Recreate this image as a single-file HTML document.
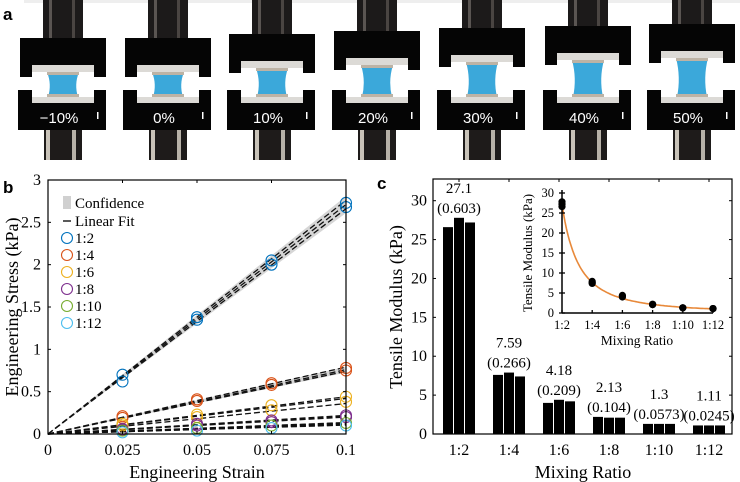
<!DOCTYPE html>
<html><head><meta charset="utf-8">
<style>
html,body{margin:0;padding:0;background:#fff;}
svg{display:block;font-family:"Liberation Serif",serif;}
.lbl{font-family:"Liberation Sans",sans-serif;font-weight:bold;}
</style></head>
<body>
<svg id="fig" width="740" height="482" viewBox="0 0 740 482" xmlns="http://www.w3.org/2000/svg">
<rect x="0" y="0" width="740" height="482" fill="#fff"/>
<rect x="24" y="0" width="716" height="3" fill="#eeeeee"/>
<g id="panelA"></g>
<text class="lbl" x="3" y="20" font-size="17">a</text>
<g id="panelB"></g>
<g id="panelC"></g>
</svg>
<script>
// ---------- Panel a data ----------
const strainLabels = ["\u221210%","0%","10%","20%","30%","40%","50%"];
const upperTop = [38,38,34,31,28,26,24];

// ---------- Panel b data ----------
const strainTicks = [0,0.025,0.05,0.075,0.1];
const strainTickLabels = ["0","0.025","0.05","0.075","0.1"];
const stressTicks = [0,0.5,1,1.5,2,2.5,3];
const stressTickLabels = ["0","0.5","1","1.5","2","2.5","3"];
const ratioNames = ["1:2","1:4","1:6","1:8","1:10","1:12"];
const ratioColors = ["#0072BD","#D95319","#EDB120","#7E2F8E","#77AC30","#4DBEEE"];
const sampleStrains = [0.025,0.05,0.075,0.1];
const stress12a = [0.70,1.38,2.05,2.73];
const stress12b = [0.62,1.35,2.00,2.68];
const stress14a = [0.21,0.41,0.60,0.78];
const stress14b = [0.19,0.39,0.58,0.75];
const stress16a = [0.12,0.23,0.34,0.44];
const stress16b = [0.10,0.20,0.28,0.38];
const stress18a = [0.06,0.10,0.16,0.20];
const stress18b = [0.05,0.12,0.14,0.22];
const stress110 = [0.04,0.07,0.10,0.13];
const stress112 = [0.02,0.04,0.07,0.10];
const fitSlopes12 = [27.6,27.1,26.6];
const fitSlopes14 = [7.9,7.6,7.4];
const fitSlopes16 = [4.4,4.2,3.6];
const fitSlopes18 = [2.2,2.1,2.0];
const fitSlopes110 = [1.35,1.3,1.25];
const fitSlopes112 = [1.15,1.1,1.05];
const bandSlopes = [27.1,7.6];

// ---------- Panel c data ----------
const modTicks = [0,5,10,15,20,25,30];
const modTickLabels = ["0","5","10","15","20","25","30"];
const barsSample1 = [26.6,7.6,4.0,2.2,1.3,1.1];
const barsSample2 = [27.8,7.9,4.4,2.1,1.3,1.1];
const barsSample3 = [27.2,7.4,4.2,2.1,1.3,1.1];
const meanLabels = ["27.1","7.59","4.18","2.13","1.3","1.11"];
const sdLabels = ["(0.603)","(0.266)","(0.209)","(0.104)","(0.0573)","(0.0245)"];
const insetTicks = [0,5,10,15,20,25,30];
const insetTickLabels = ["0","5","10","15","20","25","30"];
const ratioValues = [2,4,6,8,10,12];
const fitA = [96.5];
const fitB = [1.83];

const NS="http://www.w3.org/2000/svg";
function mk(parent,tag,attrs,text){const e=document.createElementNS(NS,tag);for(const k in attrs)e.setAttribute(k,attrs[k]);if(text!==undefined)e.textContent=text;parent.appendChild(e);return e;}

// ---------- Panel a ----------
(function(){
const g=document.getElementById('panelA');
const centers=[63,168,272,377,482,588,692];
strainLabels.forEach((lab,i)=>{
 const cx=centers[i],T=upperTop[i];
 const ph=mk(g,'g',{});
 
 
 mk(ph,'rect',{x:cx-20,y:0,width:40,height:T+2,fill:'#1c1a1a'});
 mk(ph,'rect',{x:cx-14,y:0,width:3,height:T,fill:'#5a5552'});
 mk(ph,'rect',{x:cx+9,y:0,width:3,height:T,fill:'#4a4542'});
 // upper block
 mk(ph,'path',{d:`M${cx-43} ${T} H${cx+43} V${T+39} H${cx+31} V${T+27} H${cx-31} V${T+39} H${cx-43} Z`,fill:'#050505'});
 mk(ph,'rect',{x:cx-31,y:T+27,width:62,height:7,fill:'#dcdad6'});
 // sample
 mk(ph,'path',{d:`M${cx-16} ${T+34} L${cx+16} ${T+34} Q${cx+11} ${(T+34+97)/2} ${cx+15} 97 L${cx-15} 97 Q${cx-11} ${(T+34+97)/2} ${cx-16} ${T+34} Z`,fill:'#3ba8da'});
 mk(ph,'rect',{x:cx-16,y:T+34,width:32,height:3,fill:'#bdb3a5'});
 mk(ph,'rect',{x:cx-16,y:94,width:32,height:3,fill:'#bdb3a5'});
 // lower block
 mk(ph,'path',{d:`M${cx-45} 90 H${cx-31} V97 H${cx+31} V90 H${cx+43} V130 H${cx-45} Z`,fill:'#050505'});
 mk(ph,'rect',{x:cx-31,y:97,width:62,height:6,fill:'#dcdad6'});
 const t=mk(ph,'text',{x:cx-4,y:123,'font-size':15,fill:'#fff','text-anchor':'middle','font-family':'"Liberation Sans",sans-serif'},lab);
 
 
 mk(ph,'rect',{x:cx+34,y:112,width:1.5,height:7,fill:'#fff'});
 // lower column
 mk(ph,'rect',{x:cx-19,y:130,width:38,height:30,fill:'#1e1b1a'});
 mk(ph,'rect',{x:cx-17,y:130,width:4,height:30,fill:'#c8c2b8'});
 mk(ph,'rect',{x:cx+9,y:130,width:4,height:30,fill:'#b8b2a8'});
});
})();

// ---------- Panel b ----------
(function(){
const g=document.getElementById('panelB');
const X0=48,X1=346,Y0=434,Y1=180;
const sx=v=>X0+(v-0)/(0.1)*(X1-X0);
const sy=v=>Y0-(v/3)*(Y0-Y1);
const lab=mk(g,'text',{x:3,y:193,'font-size':17,class:'lbl'},'b');

bandSlopes.forEach((s,i)=>{
 const w=i==0?0.1:0.035;
 const p=mk(g,'path',{d:`M${sx(0)} ${sy(0)} L${sx(0.1)} ${sy(s*0.1+w)} L${sx(0.1)} ${sy(s*0.1-w)} Z`,fill:'#cfcfcf',opacity:0.85});
 
});
const slopeSets=[fitSlopes12,fitSlopes14,fitSlopes16,fitSlopes18,fitSlopes110,fitSlopes112];
slopeSets.forEach(arr=>arr.forEach(s=>{
 const l=mk(g,'line',{x1:sx(0),y1:sy(0),x2:sx(0.1),y2:sy(s*0.1),stroke:'#111','stroke-width':1.3,'stroke-dasharray':'6 3'});
 
}));
const series=[[stress12a,stress12b],[stress14a,stress14b],[stress16a,stress16b],[stress18a,stress18b],[stress110],[stress112]];
series.forEach((ss,k)=>ss.forEach(arr=>arr.forEach((v,j)=>{
 const c=mk(g,'circle',{cx:sx(sampleStrains[j]),cy:sy(v),r:5.5,fill:'none',stroke:ratioColors[k],'stroke-width':1.1});
 
})));
mk(g,'rect',{x:X0,y:Y1,width:X1-X0,height:Y0-Y1,fill:'none',stroke:'#000','stroke-width':1.2});
strainTicks.forEach((v,i)=>{
 mk(g,'line',{x1:sx(v),y1:Y0,x2:sx(v),y2:Y0-3,stroke:'#000'});
 mk(g,'line',{x1:sx(v),y1:Y1,x2:sx(v),y2:Y1+3,stroke:'#000'});
 const t=mk(g,'text',{x:sx(v),y:455,'font-size':16,'text-anchor':'middle'},strainTickLabels[i]);
 
});
stressTicks.forEach((v,i)=>{
 mk(g,'line',{x1:X0,y1:sy(v),x2:X0+3,y2:sy(v),stroke:'#000'});
 mk(g,'line',{x1:X1,y1:sy(v),x2:X1-3,y2:sy(v),stroke:'#000'});
 const t=mk(g,'text',{x:X0-7,y:sy(v)+5,'font-size':16,'text-anchor':'end'},stressTickLabels[i]);
 
});
const xt=mk(g,'text',{x:197,y:478,'font-size':18,'text-anchor':'middle'},'Engineering Strain');

const yt=mk(g,'text',{x:0,y:0,'font-size':18,'text-anchor':'middle',transform:'translate(18,307) rotate(-90)'},'Engineering Stress (kPa)');

const lg=mk(g,'g',{});

mk(lg,'rect',{x:63,y:196,width:8,height:13,fill:'#d0d0d0'});
mk(lg,'text',{x:75,y:208,'font-size':15},'Confidence');
mk(lg,'line',{x1:63,y1:221,x2:71,y2:221,stroke:'#222','stroke-width':1.5});
mk(lg,'text',{x:75,y:226,'font-size':15},'Linear Fit');
ratioNames.forEach((n,i)=>{
 const y=238+17*i;
 const e=mk(lg,'g',{});
 
 mk(e,'circle',{cx:67,cy:y,r:5.5,fill:'none',stroke:ratioColors[i],'stroke-width':1.1});
 mk(e,'text',{x:75,y:y+5,'font-size':15},n);
});
})();

// ---------- Panel c ----------
(function(){
const g=document.getElementById('panelC');
const X0=433,X1=732,Y0=434,Y1=179;
const sy=v=>Y0-v*(Y0-200.7)/30;
const cxs=i=>459+50*i;
const lab=mk(g,'text',{x:377,y:189,'font-size':17,class:'lbl'},'c');

const sets=[barsSample1,barsSample2,barsSample3];
ratioNames.forEach((n,i)=>{
 sets.forEach((arr,k)=>{
  const v=arr[i];const x=cxs(i)-16+k*11;
  const b=mk(g,'rect',{x:x,y:sy(v),width:10,height:Y0-sy(v),fill:'#000'});
  
 });
 const top=sy(Math.max(barsSample1[i],barsSample2[i],barsSample3[i]));
 const m=mk(g,'text',{x:cxs(i),y:top-25,'font-size':15,'text-anchor':'middle'},meanLabels[i]);
 
 const s=mk(g,'text',{x:cxs(i),y:top-5,'font-size':15,'text-anchor':'middle'},sdLabels[i]);
 
 const t=mk(g,'text',{x:cxs(i),y:455,'font-size':16,'text-anchor':'middle'},n);
 
 mk(g,'line',{x1:cxs(i),y1:Y1,x2:cxs(i),y2:Y1+3,stroke:'#000'});
 mk(g,'line',{x1:cxs(i),y1:Y0,x2:cxs(i),y2:Y0-3,stroke:'#000'});
});
mk(g,'rect',{x:X0,y:Y1,width:X1-X0,height:Y0-Y1,fill:'none',stroke:'#000','stroke-width':1.2});
modTicks.forEach((v,i)=>{
 mk(g,'line',{x1:X0,y1:sy(v),x2:X0+3,y2:sy(v),stroke:'#000'});
 mk(g,'line',{x1:X1,y1:sy(v),x2:X1-3,y2:sy(v),stroke:'#000'});
 const t=mk(g,'text',{x:X0-6,y:sy(v)+5,'font-size':16,'text-anchor':'end'},modTickLabels[i]);
 
});
const xt=mk(g,'text',{x:583,y:478,'font-size':18,'text-anchor':'middle'},'Mixing Ratio');

const yt=mk(g,'text',{x:0,y:0,'font-size':18,'text-anchor':'middle',transform:'translate(402,307) rotate(-90)'},'Tensile Modulus (kPa)');

const ig=mk(g,'g',{});

const IX0=562,IX1=713,IY0=313,IY1=193;
const ix=r=>IX0+(r-2)/10*(IX1-IX0);
const iy=v=>IY0-v/30*(IY0-IY1);
let d='';
for(let r=2;r<=12.001;r+=0.1){const v=fitA[0]*Math.pow(r,-fitB[0]);d+=(d?'L':'M')+ix(r).toFixed(1)+' '+iy(v).toFixed(1);}
const fc=mk(ig,'path',{d:d,fill:'none',stroke:'#E8893A','stroke-width':1.6});

ratioValues.forEach((r,i)=>{
 sets.forEach(arr=>{
  const c=mk(ig,'circle',{cx:ix(r),cy:iy(arr[i]),r:3.6,fill:'#000'});
  
 });
 mk(ig,'line',{x1:ix(r),y1:IY0,x2:ix(r),y2:IY0-3,stroke:'#000','stroke-width':1.3});
 const t=mk(ig,'text',{x:ix(r),y:IY0+16,'font-size':12.5,'text-anchor':'middle'},ratioNames[i]);
 
});
mk(ig,'line',{x1:IX0,y1:IY1-3,x2:IX0,y2:IY0,stroke:'#000','stroke-width':1.5});
mk(ig,'line',{x1:IX0,y1:IY0,x2:IX1,y2:IY0,stroke:'#000','stroke-width':1.5});
insetTicks.forEach((v,i)=>{
 mk(ig,'line',{x1:IX0-3,y1:iy(v),x2:IX0+3,y2:iy(v),stroke:'#000','stroke-width':1.3});
 const t=mk(ig,'text',{x:IX0-8,y:iy(v)+4,'font-size':12.5,'text-anchor':'end'},insetTickLabels[i]);
 
});
const ixt=mk(ig,'text',{x:637,y:345,'font-size':13.5,'text-anchor':'middle'},'Mixing Ratio');

const iyt=mk(ig,'text',{x:0,y:0,'font-size':13,'text-anchor':'middle',transform:'translate(532,253) rotate(-90)'},'Tensile Modulus (kPa)');

})();
</script>
</body></html>
